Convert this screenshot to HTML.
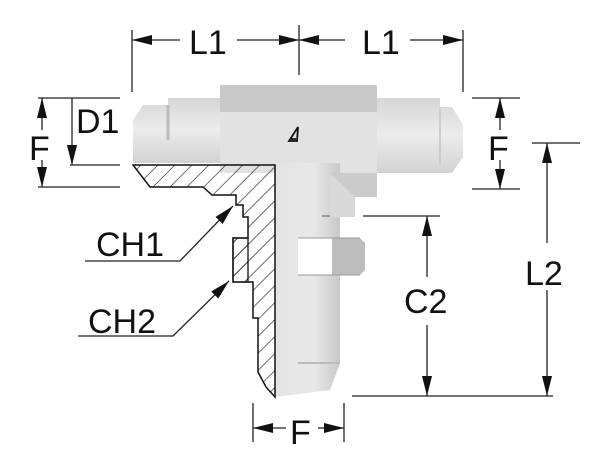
<!DOCTYPE html>
<html><head><meta charset="utf-8"><style>
html,body{margin:0;padding:0;background:#fff;width:600px;height:474px;overflow:hidden}
svg{display:block}
text{font-family:"Liberation Sans",sans-serif;font-size:34px;fill:#111}
</style></head><body>
<svg width="600" height="474" viewBox="0 0 600 474">
<defs>
<marker id="a" viewBox="0 0 20 10" refX="20" refY="5" markerWidth="20" markerHeight="11" markerUnits="userSpaceOnUse" orient="auto-start-reverse"><path d="M0,0L20,5L0,10z" fill="#111"/></marker>
<pattern id="h" width="12" height="12" patternUnits="userSpaceOnUse" patternTransform="rotate(45)"><line x1="0" y1="0" x2="0" y2="12" stroke="#222" stroke-width="1.3"/></pattern>
<linearGradient id="gv" x1="0" x2="0" y1="0" y2="1"><stop offset="0" stop-color="#d6d6d6"/><stop offset="0.5" stop-color="#ececec"/><stop offset="1" stop-color="#d2d2d2"/></linearGradient>
<linearGradient id="gh" x1="0" x2="1" y1="0" y2="0"><stop offset="0" stop-color="#e4e4e4"/><stop offset="0.6" stop-color="#e8e8e8"/><stop offset="1" stop-color="#c8c8c8"/></linearGradient>
</defs>
<!-- body -->
<path d="M133,120 L143,105 L168,105 L168,98 L220,98 L220,163 L133,163 Z" fill="url(#gv)"/>
<line x1="168" y1="105" x2="168" y2="140" stroke="#bbb" stroke-width="3"/>
<path d="M377,98 L440,98 L440,107 L452,107 L463,125 L463,157 L452,173 L377,173 Z" fill="url(#gv)"/>
<line x1="440" y1="107" x2="440" y2="165" stroke="#ccc" stroke-width="2"/>
<rect x="220" y="85" width="157" height="27" fill="#c9c9c9"/>
<rect x="220" y="112" width="157" height="61" fill="#e2e2e2"/>
<path d="M275,163 L340,163 L340,363 L330,390 L275,397 Z" fill="url(#gh)"/>
<path d="M330,173 L377,173 L377,197 L355,197 L355,217 L330,217 Z" fill="#cbcbcb"/>
<path d="M330,173 L355,197 L355,217 L330,217Z" fill="#d9d9d9"/>
<rect x="322" y="215" width="8" height="2" fill="#999"/>
<!-- nut -->
<rect x="298" y="238" width="34" height="37" fill="#fff"/>
<path d="M332,238 L360,238 L365,243 L365,270 L360,275 L332,275Z" fill="#bdbdbd"/>
<line x1="298" y1="238" x2="360" y2="238" stroke="#999"/>
<line x1="298" y1="275" x2="360" y2="275" stroke="#999"/>
<line x1="298" y1="363" x2="340" y2="363" stroke="#bbb" stroke-width="2"/>
<!-- logo -->
<path d="M289,141 L298,127 L297,141 Z M291,139 L296,139" fill="none" stroke="#111" stroke-width="1.8"/>
<!-- section -->
<path d="M133,165 L275,165 L275,397 L266,387 L258,372 L258,318 L253,318 L253,282 L248,282 L233,282 L233,238 L248,238 L248,217 L243,217 L243,205 L236,205 L236,195 L212,195 L203,187 L150,187 Z" fill="url(#h)" stroke="#111" stroke-width="1.5"/>
<path d="M233,238 L248,238 L248,282 L233,282Z" fill="url(#h)" stroke="#111" stroke-width="1.3"/>
<!-- dims -->
<g stroke="#222" stroke-width="1.3" fill="none">
<line x1="132" y1="30" x2="132" y2="92"/><line x1="299" y1="25" x2="299" y2="75"/><line x1="463" y1="30" x2="463" y2="92"/>
<line x1="132" y1="40" x2="180" y2="40" marker-start="url(#a)"/><line x1="237" y1="40" x2="299" y2="40" marker-end="url(#a)"/>
<line x1="299" y1="40" x2="345" y2="40" marker-start="url(#a)"/><line x1="410" y1="40" x2="463" y2="40" marker-end="url(#a)"/>
<line x1="38" y1="98" x2="120" y2="98"/><line x1="70" y1="165" x2="120" y2="165"/><line x1="38" y1="187" x2="120" y2="187"/>
<line x1="42" y1="98" x2="42" y2="130" marker-start="url(#a)"/><line x1="42" y1="160" x2="42" y2="187" marker-end="url(#a)"/>
<line x1="72" y1="98" x2="72" y2="165" marker-end="url(#a)"/>
<line x1="472" y1="98" x2="520" y2="98"/><line x1="472" y1="189" x2="520" y2="189"/>
<line x1="500" y1="98" x2="500" y2="130" marker-start="url(#a)"/><line x1="500" y1="160" x2="500" y2="189" marker-end="url(#a)"/>
<line x1="532" y1="143" x2="580" y2="143"/><line x1="352" y1="396" x2="553" y2="396"/>
<line x1="547" y1="143" x2="547" y2="243" marker-start="url(#a)"/><line x1="547" y1="290" x2="547" y2="396" marker-end="url(#a)"/>
<line x1="363" y1="216" x2="440" y2="216"/>
<line x1="427" y1="216" x2="427" y2="277" marker-start="url(#a)"/><line x1="427" y1="325" x2="427" y2="396" marker-end="url(#a)"/>
<line x1="253" y1="403" x2="253" y2="442"/><line x1="344" y1="403" x2="344" y2="442"/>
<line x1="253" y1="428" x2="286" y2="428" marker-start="url(#a)"/><line x1="318" y1="428" x2="344" y2="428" marker-end="url(#a)"/>
<polyline points="85,261 180,261 233,206" marker-end="url(#a)"/>
<polyline points="78,336 173,336 229,281" marker-end="url(#a)"/>
</g>
<text x="189" y="54">L1</text><text x="362" y="54">L1</text>
<text x="76" y="133">D1</text><text x="29" y="160">F</text><text x="488" y="160">F</text>
<text x="525" y="285">L2</text><text x="404" y="313">C2</text><text x="290" y="444">F</text>
<text x="96" y="256">CH1</text><text x="88" y="333">CH2</text>
</svg>
</body></html>
